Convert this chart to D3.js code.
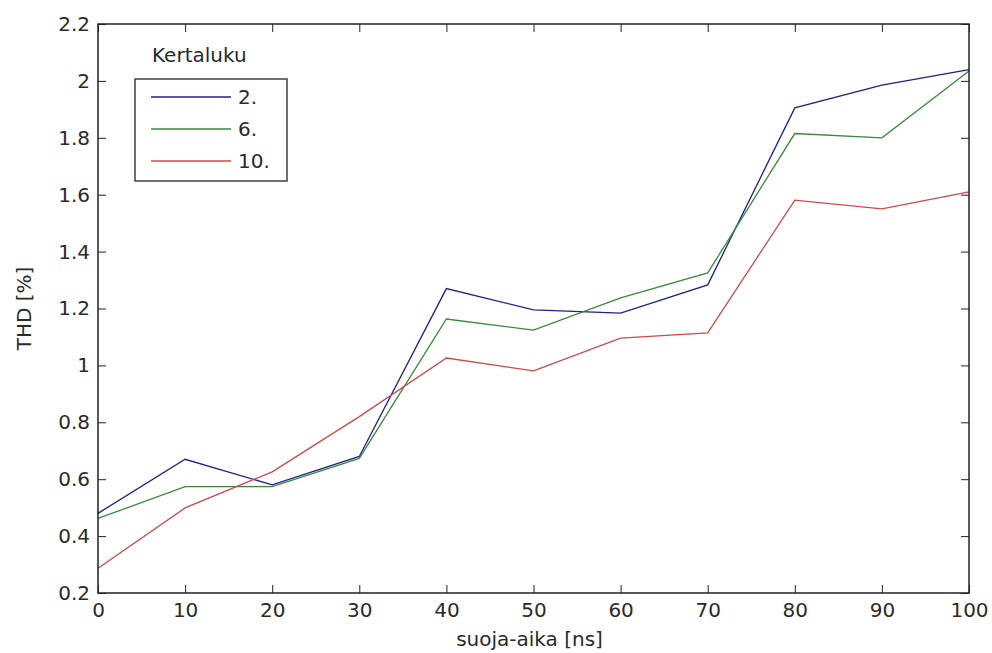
<!DOCTYPE html>
<html>
<head>
<meta charset="utf-8">
<script src="https://cdn.jsdelivr.net/npm/d3@7"></script>
<style>
  html, body { margin: 0; padding: 0; background: #fff; }
  svg text { font-family: "DejaVu Sans", sans-serif; fill: #2a2a2a; }
</style>
</head>
<body>
<div id="chart"></div>
<script>
// Guard time (ns) on the x axis
const guardTime = [0, 10, 20, 30, 40, 50, 60, 70, 80, 90, 100];

// THD [%] for each harmonic order
const thdOrder2  = [0.48, 0.67, 0.58, 0.68, 1.27, 1.195, 1.184, 1.283, 1.905, 1.985, 2.04];
const thdOrder6  = [0.462, 0.574, 0.574, 0.673, 1.163, 1.124, 1.237, 1.325, 1.815, 1.80, 2.035];
const thdOrder10 = [0.287, 0.499, 0.626, 0.82, 1.026, 0.981, 1.096, 1.114, 1.581, 1.55, 1.61];

const seriesNames  = ["2.", "6.", "10."];
const seriesColors = ["#1f1f8f", "#3a8a3a", "#d04848"];

const xTicks = [0, 10, 20, 30, 40, 50, 60, 70, 80, 90, 100];
const yTicks = [0.2, 0.4, 0.6, 0.8, 1, 1.2, 1.4, 1.6, 1.8, 2, 2.2];

const W = 992, H = 653;
const margin = { left: 98, right: 23, top: 24, bottom: 60 };
const innerW = W - margin.left - margin.right;
const innerH = H - margin.top - margin.bottom;

const svg = d3.select("#chart").append("svg")
  .attr("width", W).attr("height", H);

const x = d3.scaleLinear().domain([0, 100]).range([0, innerW]);
const y = d3.scaleLinear().domain([0.2, 2.2]).range([innerH, 0]);

const g = svg.append("g")
  .attr("transform", `translate(${margin.left},${margin.top})`);

const fmt = d => d3.format("")(+d.toFixed(1));
const tickLen = 8;
const axisColor = "#222";

function styleAxis(sel) {
  sel.select(".domain").remove();
  sel.selectAll(".tick line").attr("stroke", axisColor);
  sel.selectAll("text").attr("font-size", 20).attr("fill", "#2a2a2a")
    .style("font-family", "DejaVu Sans, sans-serif");
}

// bottom axis with inward ticks
g.append("g").attr("transform", `translate(0,${innerH})`)
  .call(d3.axisBottom(x).tickValues(xTicks).tickFormat(fmt)
    .tickSizeInner(-tickLen).tickSizeOuter(0).tickPadding(10))
  .call(styleAxis);

// top axis: ticks only
g.append("g")
  .call(d3.axisTop(x).tickValues(xTicks).tickFormat("")
    .tickSizeInner(-tickLen).tickSizeOuter(0))
  .call(styleAxis);

// left axis with inward ticks
g.append("g")
  .call(d3.axisLeft(y).tickValues(yTicks).tickFormat(fmt)
    .tickSizeInner(-tickLen).tickSizeOuter(0).tickPadding(8))
  .call(styleAxis);

// right axis: ticks only
g.append("g").attr("transform", `translate(${innerW},0)`)
  .call(d3.axisRight(y).tickValues(yTicks).tickFormat("")
    .tickSizeInner(-tickLen).tickSizeOuter(0))
  .call(styleAxis);

// data lines
const line = d3.line()
  .x((d, i) => x(guardTime[i]))
  .y(d => y(d));

[thdOrder2, thdOrder6, thdOrder10].forEach((vals, k) => {
  g.append("path")
    .datum(vals)
    .attr("fill", "none")
    .attr("stroke", seriesColors[k])
    .attr("stroke-width", 1.3)
    .attr("stroke-linejoin", "miter")
    .attr("d", line);
});

// plot frame
g.append("rect")
  .attr("x", 0).attr("y", 0)
  .attr("width", innerW).attr("height", innerH)
  .attr("fill", "none").attr("stroke", axisColor).attr("stroke-width", 1.5);

// axis titles
svg.append("text")
  .attr("x", margin.left + innerW / 2 - 4).attr("y", 646)
  .attr("text-anchor", "middle").attr("font-size", 20)
  .text("suoja-aika [ns]");

svg.append("text")
  .attr("transform", `translate(31,${margin.top + innerH / 2}) rotate(-90)`)
  .attr("text-anchor", "middle").attr("font-size", 20)
  .text("THD [%]");

// legend
const legend = svg.append("g");
legend.append("text")
  .attr("x", 152).attr("y", 62)
  .attr("font-size", 20)
  .text("Kertaluku");

legend.append("rect")
  .attr("x", 135).attr("y", 79)
  .attr("width", 152).attr("height", 102)
  .attr("fill", "#fff").attr("stroke", axisColor).attr("stroke-width", 1.3);

seriesNames.forEach((name, k) => {
  const ly = 97 + k * 32;
  legend.append("line")
    .attr("x1", 151).attr("x2", 231)
    .attr("y1", ly).attr("y2", ly)
    .attr("stroke", seriesColors[k]).attr("stroke-width", 1.3);
  legend.append("text")
    .attr("x", 238).attr("y", ly)
    .attr("dy", "0.36em")
    .attr("font-size", 20)
    .text(name);
});
</script>
</body>
</html>
